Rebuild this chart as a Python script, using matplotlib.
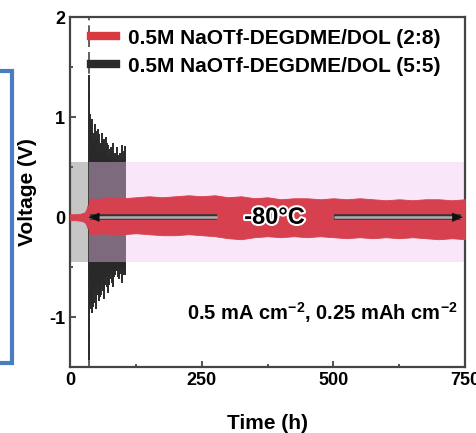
import matplotlib
matplotlib.use("Agg")
import matplotlib.pyplot as plt
import matplotlib.patheffects as pe
from matplotlib.lines import Line2D
from matplotlib.patches import Rectangle
from matplotlib.ticker import MultipleLocator

plt.rcParams["font.family"] = ["Liberation Sans", "DejaVu Sans"]
plt.rcParams["font.weight"] = "bold"
plt.rcParams["axes.labelweight"] = "bold"
plt.rcParams["axes.unicode_minus"] = False
plt.rcParams["mathtext.fontset"] = "custom"
plt.rcParams["mathtext.rm"] = "Liberation Sans:bold"
plt.rcParams["mathtext.bf"] = "Liberation Sans:bold"
plt.rcParams["mathtext.default"] = "bf"

# red cell (2:8): envelope of the voltage trace
red_t = [0, 10, 20, 28, 31, 33, 34.5, 36, 40, 50, 60, 80, 100, 125, 150, 175, 200,
         225, 250, 275, 300, 325, 350, 375, 400, 425, 450, 475, 500, 525, 550, 575,
         600, 625, 650, 675, 700, 725, 750]
red_hi = [0.03, 0.03, 0.035, 0.05, 0.08, 0.12, 0.07, 0.18, 0.19, 0.18, 0.19, 0.20, 0.19,
          0.20, 0.21, 0.20, 0.21, 0.22, 0.21, 0.22, 0.20, 0.21, 0.19, 0.20, 0.18, 0.19,
          0.19, 0.18, 0.19, 0.18, 0.19, 0.18, 0.17, 0.18, 0.17, 0.18, 0.18, 0.17, 0.18]
red_lo = [-0.03, -0.03, -0.035, -0.05, -0.08, -0.11, -0.07, -0.16, -0.17, -0.17, -0.16,
          -0.17, -0.17, -0.16, -0.17, -0.18, -0.18, -0.17, -0.18, -0.19, -0.21, -0.22,
          -0.20, -0.19, -0.20, -0.19, -0.20, -0.19, -0.20, -0.21, -0.20, -0.21, -0.20,
          -0.21, -0.20, -0.21, -0.22, -0.21, -0.22]

# black cell (5:5): dense core plus the individual spikes
blk_core_t = [36, 45, 55, 70, 85, 104.5]
blk_core_hi = [0.80, 0.72, 0.66, 0.60, 0.56, 0.52]
blk_core_lo = [-0.82, -0.74, -0.66, -0.58, -0.52, -0.50]

spike_t = [36, 37.5, 39, 40.5, 42, 43.5, 45, 47, 48.5, 50, 52, 53.5, 55, 57, 58.5, 60,
           62, 63.5, 65, 67, 68.5, 70, 72, 74, 75.5, 77, 79, 80.5, 82, 84, 86, 88,
           89.5, 91, 93, 95, 96.5, 98, 100, 101.5, 103, 104.5]
spike_hi = [1.42, 1.03, 0.92, 0.88, 0.98, 0.84, 0.80, 0.93, 0.86, 0.78, 0.88, 0.82,
            0.83, 0.74, 0.72, 0.84, 0.76, 0.78, 0.70, 0.66, 0.80, 0.74, 0.72, 0.62,
            0.68, 0.70, 0.66, 0.74, 0.60, 0.58, 0.64, 0.60, 0.70, 0.62, 0.56, 0.64,
            0.60, 0.72, 0.58, 0.60, 0.66, 0.71]
spike_lo = [-1.43, -0.92, -0.88, -0.80, -0.96, -0.90, -0.86, -0.76, -0.82, -0.92,
            -0.70, -0.78, -0.84, -0.80, -0.78, -0.66, -0.74, -0.82, -0.72, -0.68,
            -0.60, -0.70, -0.76, -0.68, -0.62, -0.56, -0.66, -0.64, -0.70, -0.60,
            -0.58, -0.54, -0.53, -0.60, -0.62, -0.57, -0.52, -0.66, -0.54, -0.56,
            -0.58, -0.58]

switch_t = 35
cycle_end_t = 750
band_lo, band_hi = -0.45, 0.55

labels = ["0.5M NaOTf-DEGDME/DOL (2:8)", "0.5M NaOTf-DEGDME/DOL (5:5)"]
red = "#d6404f"
black = "#2a2a2a"

fig = plt.figure(figsize=(4.77, 4.33), dpi=100)
ax = fig.add_axes([0.147, 0.152, 0.828, 0.808])

ax.fill_between(blk_core_t, blk_core_lo, blk_core_hi, color="#1c1c1c", lw=0, zorder=1)
ax.vlines(spike_t, spike_lo, spike_hi, color=black, lw=1.4, zorder=1)

ax.axvline(switch_t, color="#444444", ls=(0, (5, 3)), lw=1.2, zorder=0.5)

ymin_frac = (band_lo + 1.5) / 3.5
ymax_frac = (band_hi + 1.5) / 3.5
ax.axvspan(0, switch_t, ymin=ymin_frac, ymax=ymax_frac,
           color="#666666", alpha=0.37, lw=0, zorder=2)
ax.axvspan(switch_t, cycle_end_t, ymin=ymin_frac, ymax=ymax_frac,
           color="#f2c7f2", alpha=0.42, lw=0, zorder=2)

ax.fill_between(red_t, red_lo, red_hi, color=red, lw=0.6, zorder=3)

# temperature arrows: grey shaft with dark outline, small black head
shaft_fx = [pe.Stroke(linewidth=4, foreground="#333333"), pe.Normal()]
for x0, x1 in [(278, 38), (502, 743)]:
    ax.plot([x0, x1], [0, 0], color="#b0b0b0", lw=1.8, solid_capstyle="butt",
            zorder=5, path_effects=shaft_fx)
    head_from = x1 + (12 if x1 < x0 else -12)
    ax.annotate("", xy=(x1 - 3 if x1 < x0 else x1 + 3, 0), xytext=(head_from, 0), zorder=6,
                arrowprops=dict(arrowstyle="-|>,head_length=0.7,head_width=0.3",
                                color="#111111", lw=0.5, shrinkA=0, shrinkB=0))
ax.text(388, 0.0, "-80°C", ha="center", va="center", fontsize=17, zorder=6,
        path_effects=[pe.withStroke(linewidth=3, foreground="white")])

ax.text(0.98, 0.155, "0.5 mA cm$^{-2}$, 0.25 mAh cm$^{-2}$", transform=ax.transAxes,
        ha="right", va="center", fontsize=14.5)

handles = [Line2D([], [], color="#d93a40", lw=6), Line2D([], [], color=black, lw=6)]
ax.legend(handles, labels, loc="upper left", bbox_to_anchor=(0.025, 1.0), frameon=False,
          fontsize=15, handlelength=1.2, handletextpad=0.55, labelspacing=0.42,
          borderaxespad=0.15)

ax.set_xlim(0, 750)
ax.set_ylim(-1.5, 2)
ax.xaxis.set_major_locator(MultipleLocator(250))
ax.xaxis.set_minor_locator(MultipleLocator(125))
ax.yaxis.set_major_locator(MultipleLocator(1))
ax.yaxis.set_minor_locator(MultipleLocator(0.5))
ax.tick_params(which="both", direction="in", labelsize=13, width=1.3, color="#444444")
ax.tick_params(which="major", length=4)
ax.tick_params(which="minor", length=2.5)
for s in ax.spines.values():
    s.set_linewidth(1.6)
    s.set_color("#444444")

ax.set_xlabel("Time (h)", fontsize=15, labelpad=18)
ax.set_ylabel("Voltage (V)", fontsize=15, labelpad=9)

# outline box on the left edge
fig.patches.append(Rectangle((-0.05, 70 / 433), 0.05 + 12 / 477, 292 / 433,
                             transform=fig.transFigure, fill=False,
                             edgecolor="#4a7dbf", lw=3, clip_on=False))

fig.savefig("out.png", dpi=100)
